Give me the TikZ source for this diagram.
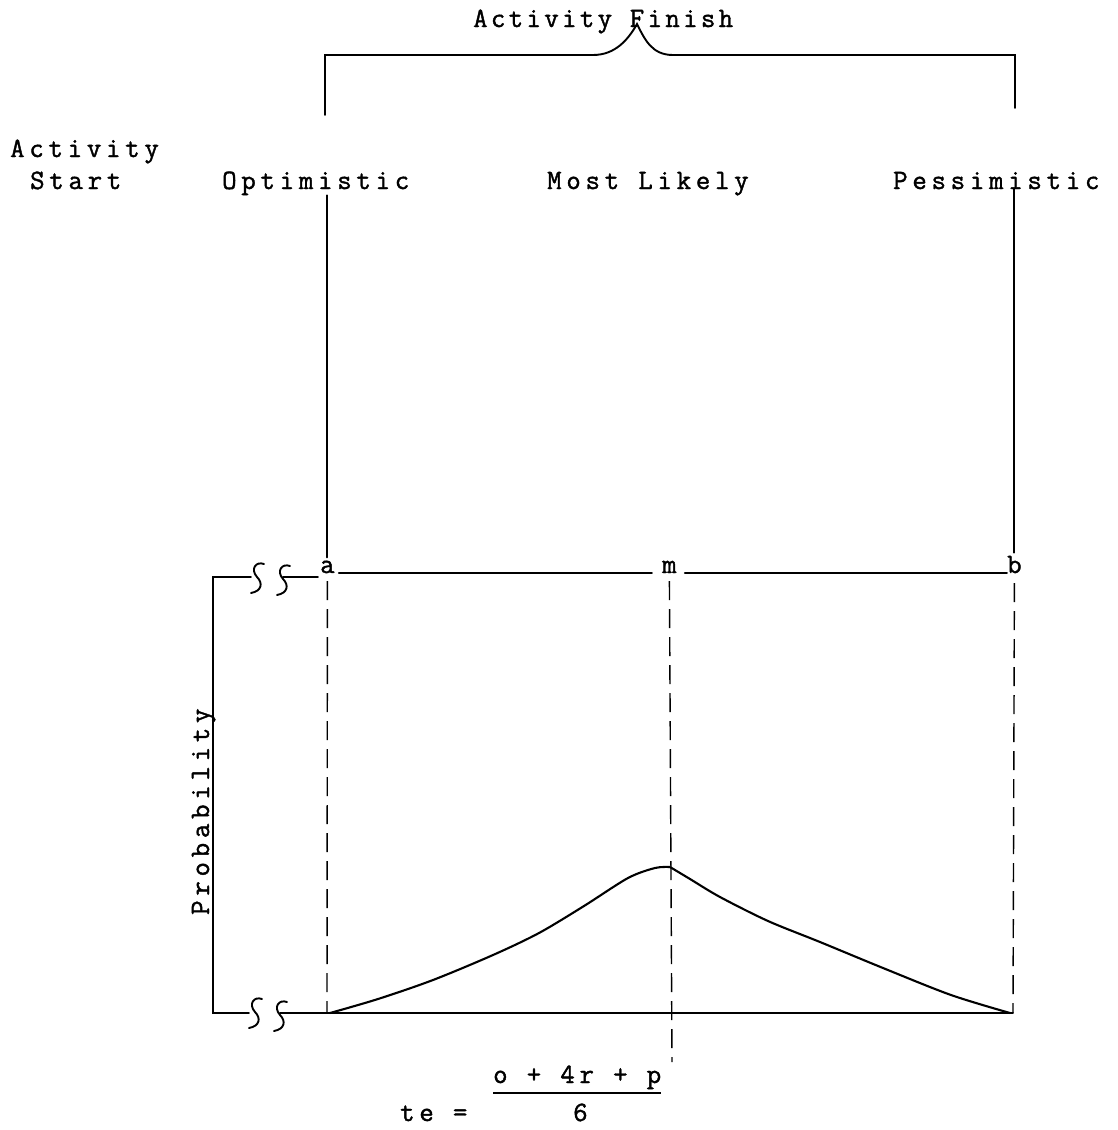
\documentclass[tikz,border=0pt]{standalone}
\usepackage{fontspec}
\usetikzlibrary{positioning, calc}
\newfontfamily\typer[LetterSpace=17, FakeBold=1.4]{Latin Modern Mono}
\newfontfamily\typetitle[LetterSpace=12, FakeBold=1.4]{Latin Modern Mono}

% wavy break mark on the axis
\newcommand{\axisbreak}[2]{%
  \draw[rule, shift={(#1,#2)}] (7,-14) .. controls (-1,-17) and (-7,-9) .. (0,-1)
    .. controls (6,5) and (5,13) .. (-6,15);}

\begin{document}
\begin{tikzpicture}[
        x=1pt, y=-1pt,
        tw/.style={font=\typer\fontsize{28pt}{32pt}\selectfont, inner sep=0pt, anchor=base west},
        rule/.style={line width=1.9pt, line cap=round},
        guide/.style={line width=1.4pt, dash pattern=on 19pt off 9pt},
        curve/.style={line width=2.1pt, line join=round}
    ]
    \useasboundingbox (0,0) rectangle (1118,1130);

    % Labels along the top
    \node[tw, font=\typetitle\fontsize{28pt}{32pt}\selectfont] (finish) at (473,27) {Activity Finish};
    \node[tw] (act)   at (10,157)  {Activity};
    \node[tw] (start) at (30,189)  {Start};
    \node[tw] (opt)   at (222,189) {Optimistic};
    \node[tw] (ml)    at (547,189) {Most Likely};
    \node[tw] (pes)   at (893,189) {Pessimistic};

    % Time points
    \node[tw] (a) at (320,573)  {a};
    \node[tw] (m) at (662,573)  {m};
    \node[tw] (b) at (1007,573) {b};

    % Brace over the finish range
    \coordinate (bl)  at (325,115);
    \coordinate (blt) at (325,55);
    \coordinate (brt) at (1015,55);
    \coordinate (br)  at (1015,108);
    \draw[rule] (bl) -- (blt) -- (593,55)
        .. controls (615,55) and (628,40) .. (637,24)
        .. controls (645,40) and (652,55) .. (673,55) -- (brt) -- (br);

    % Solid drops to a and b
    \draw[rule] (a.north |- opt.south) -- ([yshift=3pt]a.north);
    \draw[rule] (b.north |- pes.south) -- ([yshift=3pt]b.north);

    % Time line
    \draw[rule] ([xshift=4pt]a.base east) -- ([xshift=-10pt]m.base west);
    \draw[rule] ([xshift=8pt]m.base east) -- (b.base west);

    % Probability axis with breaks
    \coordinate (ytop) at (213,577);
    \coordinate (ybot) at (213,1013);
    \coordinate (afoot) at (327,1013);
    \coordinate (mfoot) at (672,1062);
    \coordinate (bfoot) at (1013,1013);
    \draw[rule] (251,577) -- (ytop) -- (ybot) -- (249,1013);
    \draw[rule] (283,577) -- (318,577);
    \draw[rule] (280,1013) -- (bfoot);
    \axisbreak{257}{578}
    \axisbreak{283}{580}
    \axisbreak{255}{1013}
    \axisbreak{280}{1016}
    \node[tw, rotate=90] (prob) at (209,915) {Probability};

    % Dashed guides
    \draw[guide] ([yshift=-8pt]a.base) -- (afoot);
    \draw[guide] ([yshift=-8pt]m.base) -- (mfoot);
    \draw[guide] ([yshift=-10pt]b.base) -- (bfoot);

    % Distribution curve
    \draw[curve] plot[smooth, tension=0.5] coordinates {
        (330,1013) (378,999) (433,980) (493,955) (539,933) (584,906)
        (628,878) (655,868) (670,867)};
    \draw[curve] plot[smooth, tension=0.5] coordinates {
        (670,867) (690,879) (720,897) (768,921) (820,942) (883,968)
        (951,995) (1010,1013)};

    % Expected time
    \node[tw] (te)  at (400,1121) {te =};
    \node[tw] (num) at (493,1083) {o + 4r + p};
    \node[tw] (den) at (573,1121) {6};
    \draw[line width=1.5pt] ([yshift=-10pt]num.base west) -- ([yshift=-10pt]num.base east);

\end{tikzpicture}
\end{document}
